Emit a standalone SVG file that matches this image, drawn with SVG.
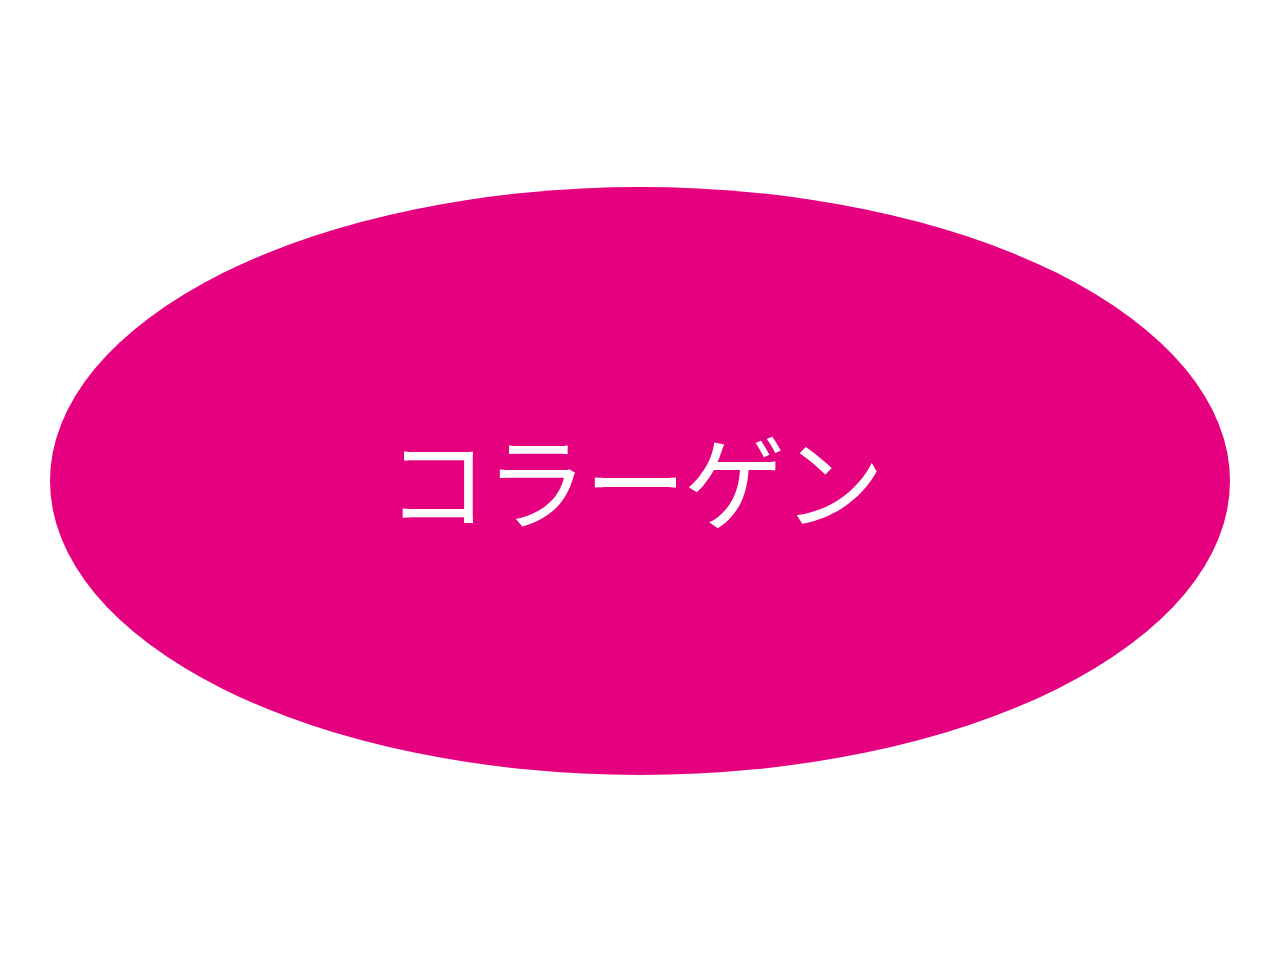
<svg xmlns="http://www.w3.org/2000/svg" width="1280" height="962" viewBox="0 0 1280 962">
<style>
.lbl{font-family:"Noto Sans CJK JP","Noto Sans CJK SC",sans-serif;font-size:102px;fill:#ffffff;letter-spacing:-3px;}
</style>
<rect width="1280" height="962" fill="#ffffff"/>
<g id="node-collagen">
<ellipse cx="640" cy="481" rx="590" ry="294" fill="#E4007F"/>
<text class="lbl" x="634" y="522" text-anchor="middle">コラーゲン</text>
</g>
<g id="connectors"/>
</svg>
